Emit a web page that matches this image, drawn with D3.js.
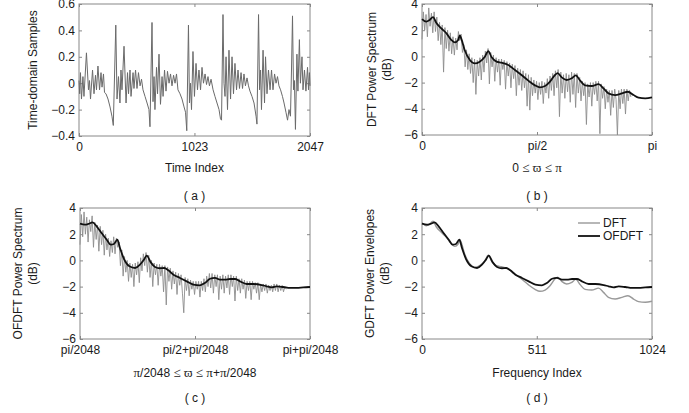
<!DOCTYPE html>
<html lang="en">
<head>
<meta charset="UTF-8">
<title>DFT / OFDFT power spectra</title>
<script src="https://d3js.org/d3.v7.min.js"></script>
<style>
  body { margin: 0; background: #fff; }
  svg { display: block; font-family: Arial, "Liberation Sans", sans-serif; }
</style>
</head>
<body>
<svg id="chart" width="689" height="413"></svg>
<script>
// ---- (a) time-domain samples: [sample index, value] at the turning points
const timeSamples = [
  [0,0.02],[6,-0.08],[13,0.08],[22,-0.12],[35,0.05],[44,-0.1],[66,0.23],[84,-0.05],[93,0.02],[102,-0.12],
  [120,0.1],[133,-0.08],[146,0.06],[155,-0.05],[168,0.13],[182,-0.05],[195,0.08],[204,-0.03],[217,0.07],[226,-0.07],
  [239,-0.08],[257,-0.12],[275,-0.18],[292,-0.25],[304,-0.32],[326,0.44],[337,-0.12],[350,0.05],[363,-0.15],[372,0.1],
  [381,-0.05],[399,0.28],[417,-0.15],[430,0.08],[439,-0.08],[452,0.1],[461,-0.1],[479,0.08],[487,-0.04],[501,0.1],
  [514,-0.04],[527,0.08],[541,-0.02],[554,0.03],[567,-0.05],[585,-0.1],[603,-0.15],[620,-0.2],[629,-0.33],[647,0.46],
  [656,-0.14],[665,0.05],[673,-0.2],[687,0.12],[696,-0.08],[709,0.22],[722,-0.16],[736,0.05],[745,-0.1],[758,0.1],
  [771,-0.06],[784,0.09],[798,0.0],[811,0.07],[824,-0.02],[838,0.06],[851,0.0],[864,0.07],[877,-0.05],[895,-0.08],
  [913,-0.12],[931,-0.18],[944,-0.22],[955,-0.36],[970,0.44],[979,-0.15],[988,0.0],[997,-0.2],[1010,0.24],[1023,-0.1],
  [1037,0.15],[1050,-0.05],[1063,0.1],[1077,-0.05],[1090,0.12],[1103,0.0],[1117,0.07],[1130,-0.01],[1143,0.05],[1156,-0.02],
  [1170,0.03],[1188,-0.05],[1205,-0.1],[1223,-0.15],[1241,-0.2],[1254,-0.27],[1263,-0.28],[1276,0.52],[1285,0.0],[1294,-0.1],
  [1303,0.2],[1316,-0.2],[1329,0.25],[1343,-0.12],[1356,0.2],[1369,-0.08],[1382,0.15],[1396,-0.05],[1409,0.1],[1422,-0.04],
  [1436,0.08],[1449,-0.04],[1462,0.07],[1475,-0.02],[1489,0.04],[1502,-0.02],[1515,-0.06],[1533,-0.1],[1551,-0.15],[1569,-0.25],
  [1577,-0.31],[1591,0.52],[1600,-0.05],[1609,0.1],[1617,-0.2],[1631,0.25],[1644,-0.15],[1653,0.2],[1666,-0.08],[1679,0.1],
  [1693,-0.05],[1706,0.1],[1719,-0.05],[1733,0.07],[1746,0.0],[1759,0.05],[1772,-0.02],[1786,-0.05],[1803,-0.1],[1817,-0.15],
  [1834,-0.22],[1848,-0.28],[1861,-0.2],[1874,-0.25],[1883,0.1],[1892,0.51],[1901,-0.05],[1909,0.02],[1918,-0.35],[1931,0.22],
  [1940,-0.06],[1953,0.33],[1962,0.0],[1976,0.2],[1985,-0.05],[1998,0.1],[2011,-0.06],[2025,0.12],[2034,-0.05],[2042,0.08],
  [2047,-0.02]
];

// ---- (b) DFT power spectrum (dB), gray trace every 6 bins from bin 0
const dftSpectrum = [
  1.3,3.4,2.0,3.2,1.5,3.7,2.3,3.3,1.8,3.4,1.9,3.0,1.2,2.6,0.9,2.4,-1.2,2.2,0.6,2.0,
  0.4,1.8,0.2,1.5,0.1,1.4,0.5,1.9,1.2,1.7,0.3,0.9,-0.8,0.5,-1.0,0.2,-1.3,-0.1,-2.0,-0.2,
  -2.9,-0.3,-1.5,-0.1,-1.8,0.1,-1.2,0.4,-0.5,0.6,-2.1,0.3,-0.8,0.1,-1.9,-0.1,-1.2,-0.2,-2.2,-0.2,
  -1.0,-0.3,-2.5,-0.4,-1.5,-0.5,-2.4,-0.6,-1.7,-0.7,-3.0,-0.9,-2.2,-1.0,-2.6,-1.1,-2.4,-1.3,-3.8,-1.4,
  -4.1,-1.6,-3.0,-1.8,-2.8,-1.9,-3.3,-2.0,-2.9,-1.9,-3.6,-2.0,-2.8,-1.7,-3.2,-1.5,-2.6,-1.3,-3.0,-1.1,
  -2.4,-1.0,-4.6,-1.2,-2.8,-1.4,-3.2,-1.3,-2.7,-1.4,-3.5,-1.2,-2.9,-1.3,-3.9,-1.3,-2.8,-1.6,-3.4,-1.9,
  -3.0,-2.0,-5.2,-2.1,-3.1,-2.0,-3.8,-2.0,-2.9,-1.9,-3.4,-1.9,-5.9,-2.1,-3.2,-2.3,-4.0,-2.5,-3.5,-2.6,
  -4.5,-2.6,-3.9,-2.5,-3.3,-6.0,-2.6,-4.0,-2.5,-3.6,-2.5,-4.4,-2.5,-3.4,-2.6,-3.1
];
// DFT power envelope: [bin, dB]
const dftEnvelope = [
  [0,2.85],[19,2.65],[34,2.78],[49,3.0],[64,2.55],[86,2.14],[109,1.76],[131,1.25],[146,1.07],[161,1.25],
  [168,1.6],[176,1.3],[190,0.49],[213,-0.27],[235,-0.53],[257,-0.4],[280,-0.02],[295,0.4],[310,-0.07],[332,-0.4],
  [354,-0.48],[384,-0.66],[414,-1.04],[443,-1.42],[473,-1.85],[503,-2.21],[525,-2.36],[548,-2.26],[570,-1.93],[592,-1.42],
  [604,-1.28],[622,-1.6],[644,-1.8],[667,-1.67],[685,-1.45],[704,-1.85],[726,-2.21],[756,-2.26],[786,-2.12],[808,-2.44],
  [830,-2.82],[860,-2.95],[890,-2.82],[917,-2.7],[942,-2.95],[964,-3.15],[994,-3.2],[1024,-3.12]
];

// ---- (c) OFDFT power spectrum (dB), gray trace every 6 bins from bin 0
const ofdftSpectrum = [
  1.2,3.5,1.8,3.7,2.0,3.3,1.4,3.1,2.2,3.4,1.0,2.9,1.6,2.7,0.7,2.6,1.2,2.3,0.4,2.0,
  0.8,1.7,0.3,1.5,0.6,1.8,0.5,1.7,1.0,1.4,-0.4,0.8,-1.2,0.3,-0.9,0.0,-1.6,-0.2,-1.3,-0.3,
  -2.0,-0.2,-1.1,-0.1,-1.7,0.2,-0.8,0.5,-0.4,0.6,-0.9,0.4,-1.3,0.0,-2.0,-0.2,-1.1,-0.3,-1.9,-0.3,
  -1.2,-0.4,-2.4,-0.4,-3.4,-0.5,-1.6,-0.6,-2.2,-0.8,-1.8,-0.9,-2.6,-1.0,-1.9,-1.1,-2.5,-4.0,-1.3,-2.3,
  -1.4,-2.7,-1.5,-2.2,-1.6,-2.6,-1.6,-2.2,-1.6,-2.8,-1.6,-2.3,-1.4,-2.4,-1.2,-2.0,-1.0,-2.1,-1.0,-2.5,
  -1.1,-2.0,-1.1,-3.0,-1.2,-2.2,-1.1,-2.5,-1.2,-2.1,-1.1,-2.6,-1.1,-2.0,-1.2,-3.1,-1.2,-2.3,-1.4,-2.5,
  -1.4,-2.2,-1.5,-2.9,-1.6,-2.3,-1.6,-3.0,-1.6,-2.2,-1.7,-2.5,-1.7,-3.0,-1.8,-2.4,-1.8,-2.3,-1.8,-2.5,
  -1.9,-2.3,-1.9,-2.4,-1.8,-2.3,-1.8,-2.4,-1.9,-2.3,-1.9,-2.4,-2.0,-2.2
];
// OFDFT power envelope: [bin, dB]
const ofdftEnvelope = [
  [0,2.8],[22,2.73],[37,2.78],[56,2.9],[74,2.6],[96,2.09],[119,1.58],[137,1.2],[151,1.25],[166,1.58],
  [178,0.95],[196,0.1],[220,-0.45],[245,-0.58],[267,-0.33],[285,0.06],[297,0.36],[315,-0.15],[334,-0.5],[356,-0.6],
  [375,-0.58],[393,-0.76],[416,-1.09],[445,-1.34],[475,-1.6],[505,-1.85],[534,-1.9],[556,-1.73],[579,-1.4],[601,-1.34],
  [623,-1.47],[646,-1.47],[668,-1.42],[690,-1.42],[712,-1.6],[742,-1.8],[772,-1.8],[809,-1.88],[831,-1.98],[853,-2.06],
  [876,-1.98],[905,-2.03],[935,-2.1],[965,-2.1],[994,-2.06],[1024,-2.03]
];

const dbTicks = [4, 2, 0, -2, -4, -6];
const timeTicks = [0.6, 0.4, 0.2, 0, -0.2, -0.4];
const binTicks = [0, 512, 1024];
const piLabels = ["0", "pi/2", "pi"];
const shiftedPiLabels = ["pi/2048", "pi/2+pi/2048", "pi+pi/2048"];
const freqLabels = ["0", "511", "1024"];
const legendNames = ["DFT", "OFDFT"];

const svg = d3.select("#chart");
const boxColor = "#888";
const textColor = "#1a1a1a";

// draws a MATLAB-like box with inward ticks and returns its scales
function makePanel(o) {
  const x = d3.scaleLinear().domain(o.xDomain).range([o.left, o.right]);
  const y = d3.scaleLinear().domain(o.yDomain).range([o.bottom, o.top]);
  const g = svg.append("g");

  const styleAxis = sel => {
    sel.attr("font-size", 12).attr("font-family", "Arial, 'Liberation Sans', sans-serif");
    sel.select(".domain").remove();
    sel.selectAll(".tick line").attr("stroke", boxColor);
    sel.selectAll(".tick text").attr("fill", textColor);
  };

  g.append("g").attr("transform", `translate(0,${o.bottom})`)
    .call(d3.axisBottom(x).tickValues(o.xTicks).tickFormat((d, i) => o.xLabels[i]).tickSize(-3).tickPadding(6))
    .call(styleAxis);
  g.append("g").attr("transform", `translate(0,${o.top})`)
    .call(d3.axisTop(x).tickValues(o.xTicks).tickFormat("").tickSize(-3))
    .call(styleAxis);
  g.append("g").attr("transform", `translate(${o.left},0)`)
    .call(d3.axisLeft(y).tickValues(o.yTicks).tickFormat(o.yFormat).tickSize(-3).tickPadding(4))
    .call(styleAxis);
  g.append("g").attr("transform", `translate(${o.right},0)`)
    .call(d3.axisRight(y).tickValues(o.yTicks).tickFormat("").tickSize(-3))
    .call(styleAxis);

  g.append("rect")
    .attr("x", o.left).attr("y", o.top)
    .attr("width", o.right - o.left).attr("height", o.bottom - o.top)
    .attr("fill", "none").attr("stroke", boxColor).attr("stroke-width", 1);

  // y label (one or two lines)
  o.yTitle.forEach((t, i) => {
    g.append("text")
      .attr("transform", `translate(${o.yTitleX + i * 15},${(o.top + o.bottom) / 2}) rotate(-90)`)
      .attr("text-anchor", "middle").attr("dominant-baseline", "central")
      .attr("font-size", 12).attr("fill", textColor).text(t);
  });

  const cx = (o.left + o.right) / 2;
  const xt = g.append("text").attr("x", cx).attr("y", o.xTitleY)
    .attr("text-anchor", "middle").attr("font-size", 12).attr("fill", textColor);
  o.xTitle.forEach(part => {
    xt.append("tspan").attr("font-family", part.serif ? "'Liberation Serif', serif" : null)
      .attr("font-size", part.serif ? 13 : 12).text(part.t);
  });
  g.append("text").attr("x", cx).attr("y", o.capY)
    .attr("text-anchor", "middle").attr("font-size", 12).attr("fill", textColor).text(o.caption);

  return { g, x, y };
}

const spectrumLine = (x, y) => d3.line().x((d, i) => x(i * 6)).y(d => y(d));
const envLine = (x, y) => d3.line().x(d => x(d[0])).y(d => y(d[1])).curve(d3.curveMonotoneX);

// (a)
const pa = makePanel({
  left: 79, right: 310, top: 4, bottom: 136,
  xDomain: [0, 2047], yDomain: [-0.4, 0.6],
  xTicks: [0, 1023, 2047], xLabels: ["0", "1023", "2047"],
  yTicks: timeTicks, yFormat: d3.format(".1~f"),
  yTitle: ["Time-domain Samples"], yTitleX: 33,
  xTitle: [{ t: "Time Index" }], xTitleY: 172, caption: "( a )", capY: 200
});
pa.g.append("path").datum(timeSamples)
  .attr("d", d3.line().x(d => pa.x(d[0])).y(d => pa.y(d[1])))
  .attr("fill", "none").attr("stroke", "#6a6a6a").attr("stroke-width", 1);

// (b)
const pb = makePanel({
  left: 422, right: 652, top: 4, bottom: 135,
  xDomain: [0, 1024], yDomain: [-6, 4],
  xTicks: binTicks, xLabels: piLabels,
  yTicks: dbTicks, yFormat: d3.format("d"),
  yTitle: ["DFT Power Spectrum", "(dB)"], yTitleX: 372,
  xTitle: [{ t: "0 " }, { t: "≤", serif: true }, { t: " " }, { t: "ϖ", serif: true }, { t: " " }, { t: "≤", serif: true }, { t: " " }, { t: "π", serif: true }],
  xTitleY: 172, caption: "( b )", capY: 200
});
pb.g.append("path").datum(dftSpectrum)
  .attr("d", spectrumLine(pb.x, pb.y))
  .attr("fill", "none").attr("stroke", "#8c8c8c").attr("stroke-width", 0.9);
pb.g.append("path").datum(dftEnvelope)
  .attr("d", envLine(pb.x, pb.y))
  .attr("fill", "none").attr("stroke", "#111").attr("stroke-width", 1.8);

// (c)
const pc = makePanel({
  left: 80, right: 310, top: 208, bottom: 339,
  xDomain: [0, 1024], yDomain: [-6, 4],
  xTicks: binTicks, xLabels: shiftedPiLabels,
  yTicks: dbTicks, yFormat: d3.format("d"),
  yTitle: ["OFDFT Power Spectrum", "(dB)"], yTitleX: 18,
  xTitle: [{ t: "π", serif: true }, { t: "/2048 " }, { t: "≤", serif: true }, { t: " " }, { t: "ϖ", serif: true }, { t: " " }, { t: "≤", serif: true }, { t: " " }, { t: "π", serif: true }, { t: "+" }, { t: "π", serif: true }, { t: "/2048" }],
  xTitleY: 377, caption: "( c )", capY: 402
});
pc.g.append("path").datum(ofdftSpectrum)
  .attr("d", spectrumLine(pc.x, pc.y))
  .attr("fill", "none").attr("stroke", "#8c8c8c").attr("stroke-width", 0.9);
pc.g.append("path").datum(ofdftEnvelope)
  .attr("d", envLine(pc.x, pc.y))
  .attr("fill", "none").attr("stroke", "#111").attr("stroke-width", 1.8);

// (d)
const pd = makePanel({
  left: 422, right: 652, top: 208, bottom: 339,
  xDomain: [0, 1024], yDomain: [-6, 4],
  xTicks: [0, 511, 1024], xLabels: freqLabels,
  yTicks: dbTicks, yFormat: d3.format("d"),
  yTitle: ["GDFT Power Envelopes", "(dB)"], yTitleX: 370,
  xTitle: [{ t: "Frequency Index" }], xTitleY: 377, caption: "( d )", capY: 402
});
const envStyles = [
  { data: dftEnvelope, color: "#999", width: 1.4 },
  { data: ofdftEnvelope, color: "#111", width: 1.8 }
];
envStyles.forEach((s, i) => {
  pd.g.append("path").datum(s.data)
    .attr("d", envLine(pd.x, pd.y))
    .attr("fill", "none").attr("stroke", s.color).attr("stroke-width", s.width);
  const ly = 223 + i * 13;
  pd.g.append("line").attr("x1", 578).attr("x2", 600).attr("y1", ly).attr("y2", ly)
    .attr("stroke", s.color).attr("stroke-width", s.width);
  pd.g.append("text").attr("x", 603).attr("y", ly).attr("dominant-baseline", "central")
    .attr("font-size", 12).attr("fill", textColor).text(legendNames[i]);
});
</script>
</body>
</html>
